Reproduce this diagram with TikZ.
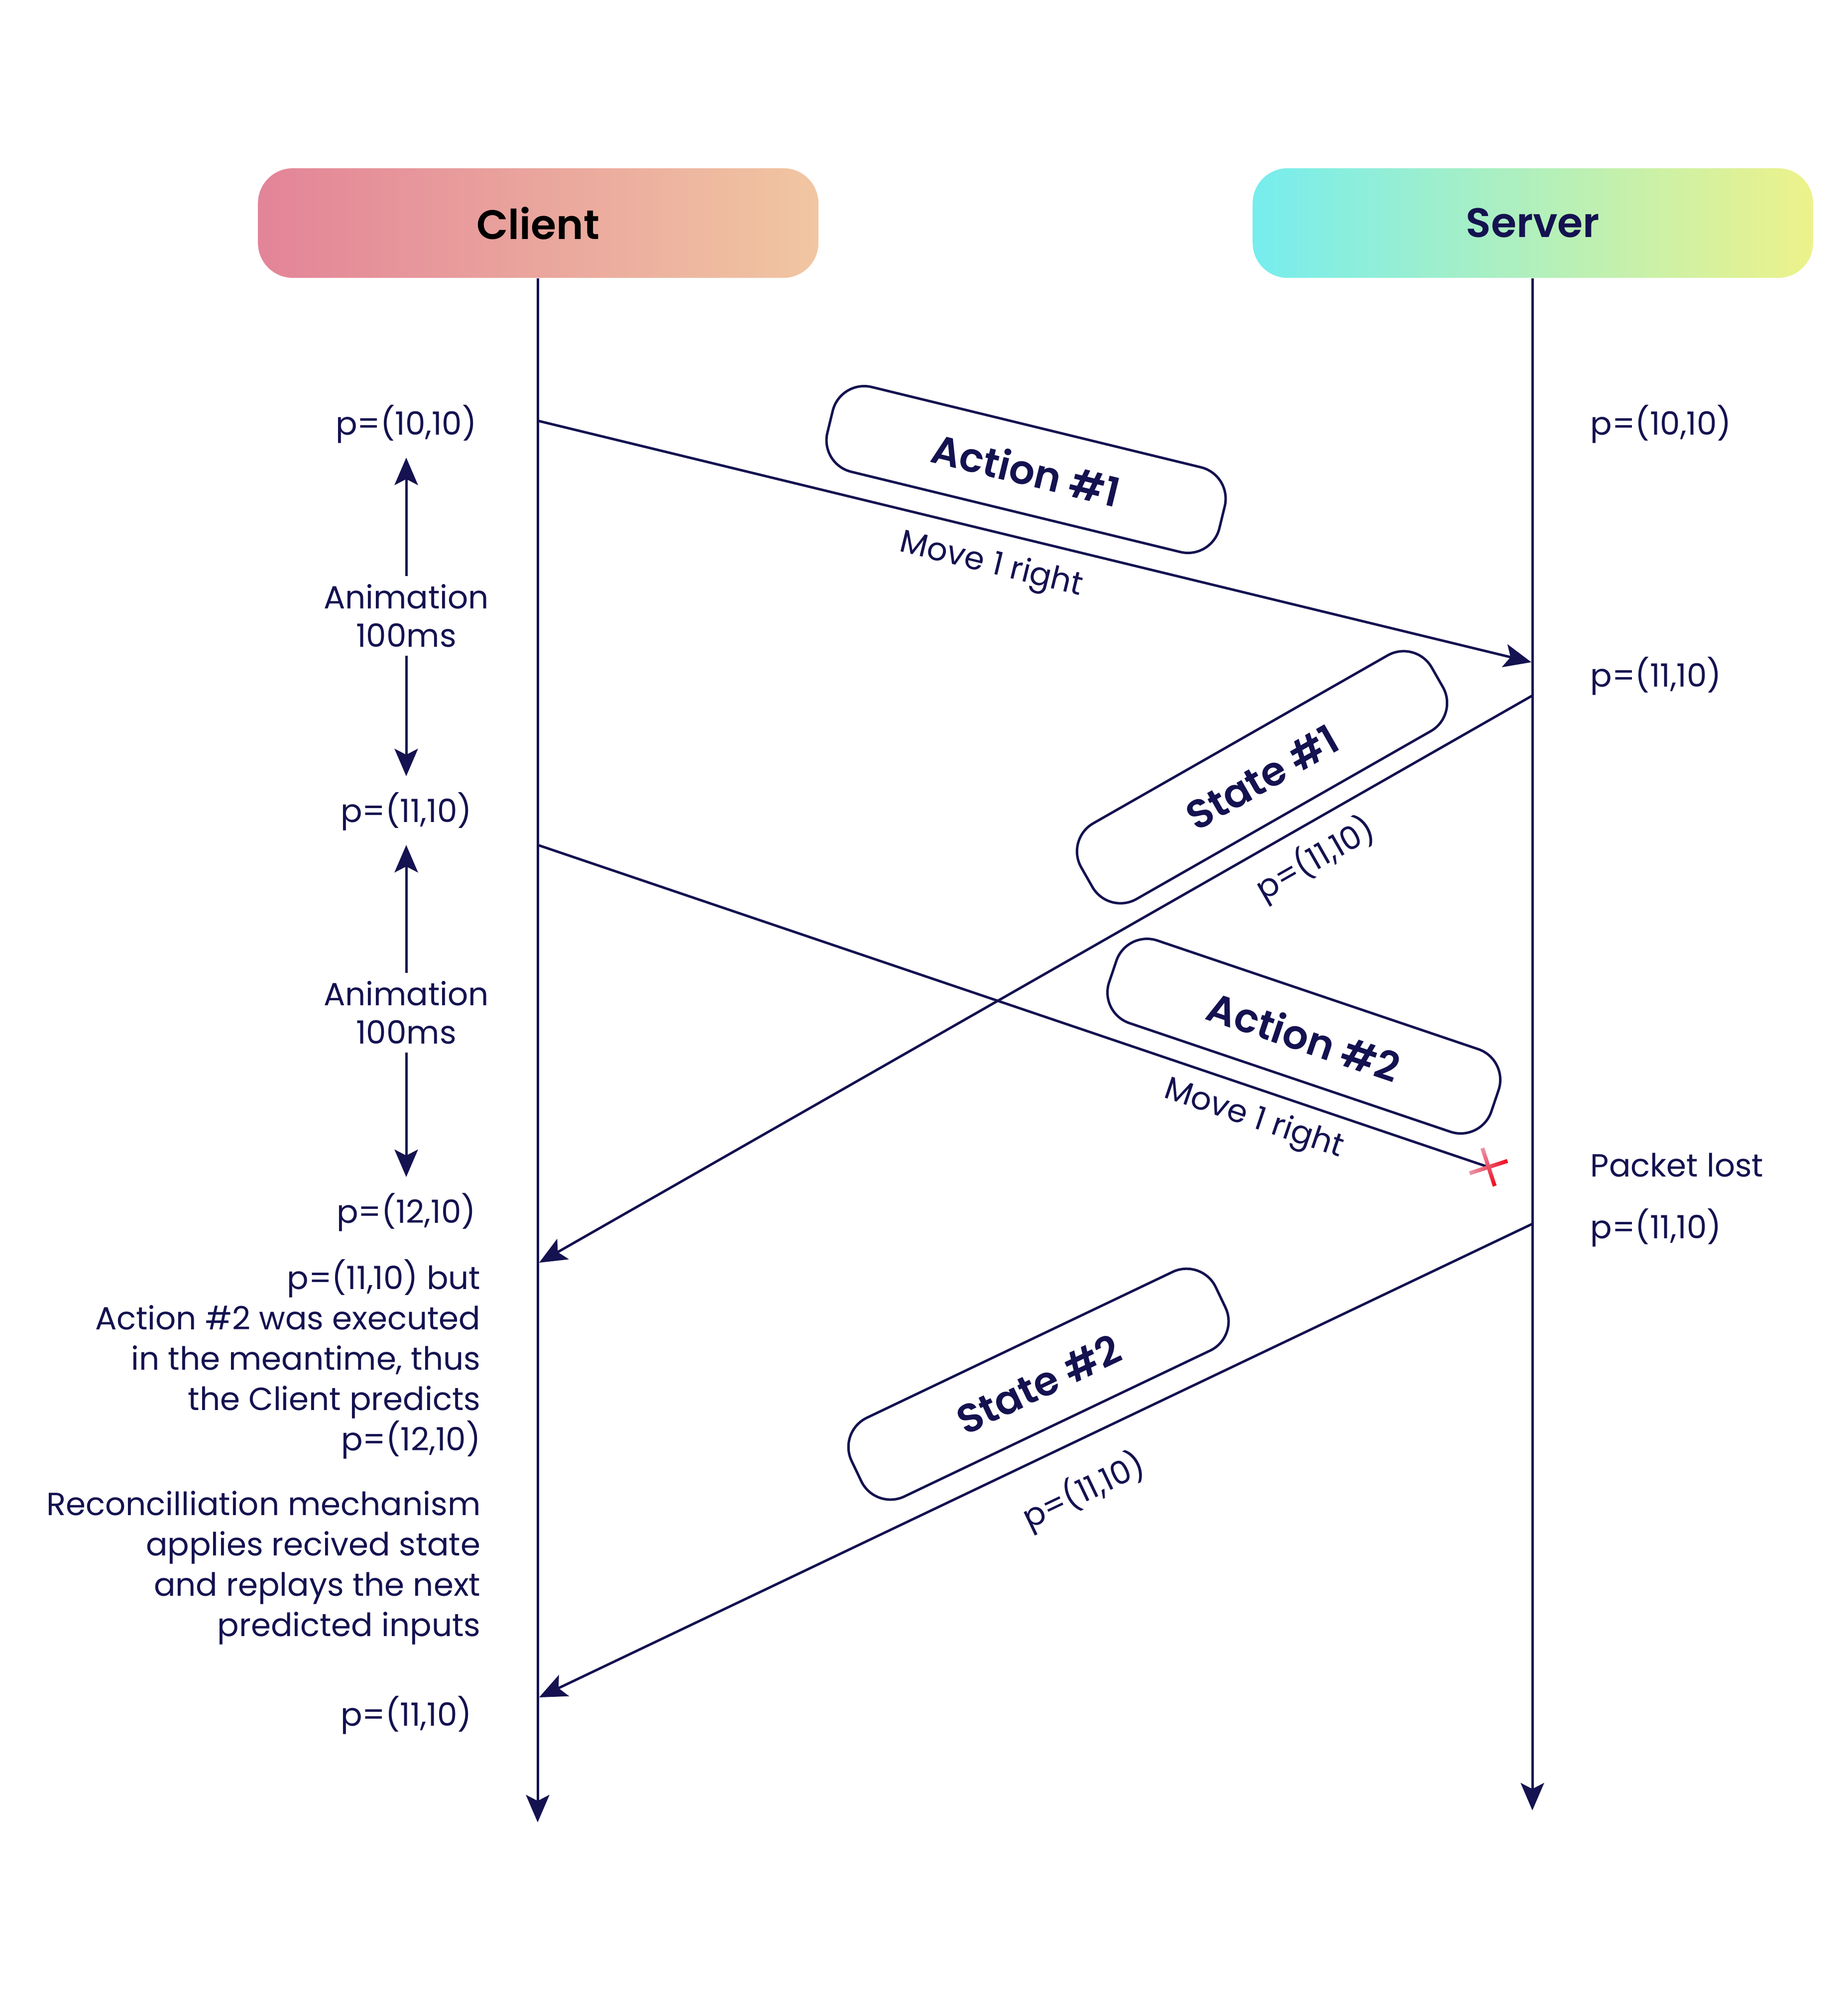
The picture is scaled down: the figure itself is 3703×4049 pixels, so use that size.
\documentclass[tikz,border=0pt]{standalone}
\usepackage{fontspec}
\setmainfont{Poppins}[BoldFont={Poppins SemiBold}]
\usetikzlibrary{arrows.meta,positioning}
\definecolor{navy}{RGB}{20,18,80}
\definecolor{clientL}{RGB}{227,132,152}
\definecolor{clientR}{RGB}{241,198,162}
\definecolor{serverL}{RGB}{118,237,238}
\definecolor{serverR}{RGB}{237,242,138}
\definecolor{lostL}{RGB}{232,150,170}
\definecolor{lostR}{RGB}{240,10,30}
\tikzset{
    %Define standard arrow tip
    >={Stealth[length=0.55cm,width=0.47cm,inset=0.12cm]},
    %Define style for the two header boxes
    header/.style={
           rectangle,
           rounded corners=0.7cm,
           minimum width=11.25cm,
           minimum height=2.2cm,
           font=\fontsize{23.5}{28}\selectfont\bfseries},
    %Define style for message boxes
    msgbox/.style={
           rectangle,
           draw=navy,
           line width=0.05cm,
           rounded corners=0.65cm,
           fill=white,
           minimum width=8.1cm,
           minimum height=1.75cm,
           text=navy,
           font=\fontsize{23}{28}\selectfont\bfseries},
    %Define style for plain labels
    lbl/.style={
           text=navy,
           inner sep=0pt,
           font=\fontsize{18.3}{23}\selectfont},
    anim/.style={
           lbl,
           align=center,
           inner sep=0.16cm,
           font=\fontsize{18.3}{22}\selectfont},
    % Define line and arrow styles
    line/.style={
           draw=navy,
           line width=0.05cm},
    arrow/.style={
           line,
           ->},
}

\begin{document}
\begin{tikzpicture}[x=0.01cm, y=-0.01cm]
    \useasboundingbox (0,0) rectangle (3703,4049);

    % headers and lifelines
    \node [header, left color=clientL, right color=clientR, text=black] (client) at (1081,448) {Client};
    \node [header, left color=serverL, right color=serverR, text=navy] (server) at (3079,448) {Server};
    \coordinate (cEnd) at (1080,3660);
    \coordinate (sEnd) at (3078,3636);
    \draw[arrow] (cEnd |- client.south) -- (cEnd);
    \draw[arrow] (sEnd |- server.south) -- (sEnd);

    % message end points
    \coordinate (c1) at (1080,845);
    \coordinate (s1) at (3076,1330);
    \coordinate (s2) at (3078,1397);
    \coordinate (c2) at (1083,2536);
    \coordinate (c3) at (1080,1697);
    \coordinate (lost) at (2990,2344);
    \coordinate (s3) at (3078,2458);
    \coordinate (c4) at (1083,3409);

    \draw[arrow] (c1) -- (s1);
    \draw[arrow] (s2) -- (c2);
    \draw[line] (c3) -- (lost);
    \draw[arrow] (s3) -- (c4);

    \node [msgbox, rotate=-13.7] (act1) at (2061,943) {Action \#1};
    \node [lbl, rotate=-13.7] (mv1) at (1991,1136) {Move 1 right};
    \node [msgbox, rotate=29.7] (st1) at (2535,1561) {State \#1};
    \node [lbl, rotate=29.7] (ps1) at (2642,1725) {p=(11,10)};
    \node [msgbox, rotate=-18.7] (act2) at (2619,2081) {Action \#2};
    \node [lbl, rotate=-18.7] (mv2) at (2518,2249) {Move 1 right};
    \node [msgbox, rotate=25.5] (st2) at (2086,2780) {State \#2};
    \node [lbl, rotate=25.5] (ps2) at (2177,2995) {p=(11,10)};

    % lost packet
    \begin{scope}[shift={(lost)}, rotate=18]
        \shade[left color=lostL, right color=lostR] (-40,-4) rectangle (40,4);
        \shade[top color=lostL, bottom color=lostR] (-4,-40) rectangle (4,40);
    \end{scope}

    % client side
    \node [lbl] (pc1) at (816,852) {p=(10,10)};
    \node [anim] (anim1) at (816,1237) {Animation\\100ms};
    \node [lbl] (pc2) at (816,1630) {p=(11,10)};
    \node [anim] (anim2) at (816,2034) {Animation\\100ms};
    \node [lbl] (pc3) at (816,2435) {p=(12,10)};
    \draw[arrow, shorten >=0.28cm] (anim1) -- (pc1);
    \draw[arrow, shorten >=0.32cm] (anim1) -- (pc2);
    \draw[arrow, shorten >=0.28cm] (anim2) -- (pc2);
    \draw[arrow, shorten >=0.32cm] (anim2) -- (pc3);
    \node [lbl, align=right, anchor=east] (predict) at (966,2730)
        {p=(11,10) but\\Action \#2 was executed\\in the meantime, thus\\the Client predicts\\p=(12,10)};
    \node [lbl, align=right, anchor=east] (reconcile) at (966,3149)
        {Reconcilliation mechanism\\applies recived state\\and replays the next\\predicted inputs};
    \node [lbl] (pc4) at (816,3445) {p=(11,10)};

    % server side
    \node [lbl, anchor=west] (ps0) at (3194,852) {p=(10,10)};
    \node [lbl, anchor=west] (psA) at (3194,1358) {p=(11,10)};
    \node [lbl, anchor=west] (lostlbl) at (3194,2340) {Packet lost};
    \node [lbl, anchor=west] (psB) at (3194,2466) {p=(11,10)};
\end{tikzpicture}
\end{document}
